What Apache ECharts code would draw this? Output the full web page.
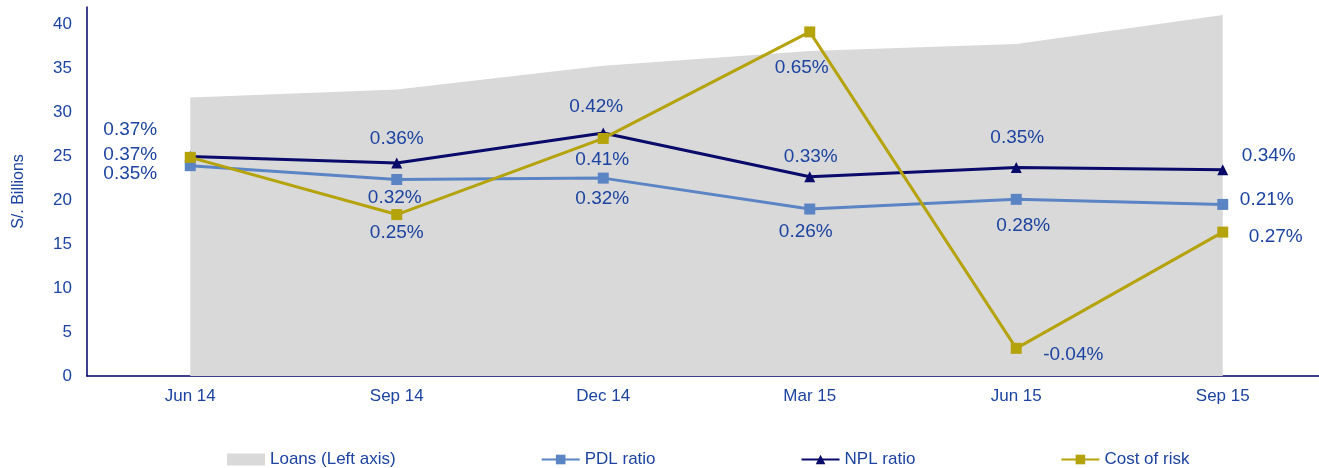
<!DOCTYPE html>
<html>
<head>
<meta charset="utf-8">
<script src="https://cdn.jsdelivr.net/npm/echarts@6/dist/echarts.min.js"></script>
<style>
  html, body { margin: 0; padding: 0; background: #fff; overflow: hidden; }
  #chart { width: 1326px; height: 468px; }
</style>
</head>
<body>
<div id="chart"></div>
<script>
// data
const quarters = ['Jun 14', 'Sep 14', 'Dec 14', 'Mar 15', 'Jun 15', 'Sep 15'];
const loans = [31.7, 32.6, 35.3, 37.0, 37.8, 41.1];          // S/. billions
const pdlRatio = [0.356, 0.326, 0.329, 0.262, 0.283, 0.272]; // %
const nplRatio = [0.376, 0.362, 0.427, 0.332, 0.352, 0.347]; // %
const costOfRisk = [0.374, 0.250, 0.415, 0.646, -0.040, 0.212]; // %
const pdlLabels = ['0.35%', '0.32%', '0.32%', '0.26%', '0.28%', '0.21%'];
const nplLabels = ['0.37%', '0.36%', '0.42%', '0.33%', '0.35%', '0.34%'];
const corLabels = ['0.37%', '0.25%', '0.41%', '0.65%', '-0.04%', '0.27%'];
const leftTicks = [0, 5, 10, 15, 20, 25, 30, 35, 40];

// where each label sits relative to its point
const pdlOffsets = [[-60, 8], [-2, 18], [-1, 21], [-4, 23], [7, 26], [44, -5]];
const nplOffsets = [[-60, -27], [0, -24], [-7, -26], [1, -20], [1, -30], [46, -14]];
const corOffsets = [[-60, -3], [0, 18], [-1, 21], [-8, 36], [57, 6], [53, 5]];

const textColor = '#1c44a0';
const font = 'Liberation Sans, Arial, sans-serif';

function withLabels(values, texts, offsets) {
  return values.map((v, i) => ({
    value: v,
    label: { show: true, position: 'inside', offset: offsets[i], formatter: texts[i] }
  }));
}

const chart = echarts.init(document.getElementById('chart'));
const option = {
  animation: false,
  textStyle: { fontFamily: font },
  grid: { left: 87, top: 7, right: 0, height: 369 },
  legend: {
    left: 222,
    top: 446,
    itemWidth: 38,
    itemHeight: 12,
    itemGap: 145,
    textStyle: { color: textColor, fontSize: 17, fontFamily: font },
    data: [
      { name: 'Loans (Left axis)', icon: 'rect', itemStyle: { color: '#d9d9d9' } },
      'PDL ratio', 'NPL ratio', 'Cost of risk'
    ]
  },
  xAxis: {
    type: 'category',
    data: quarters,
    boundaryGap: true,
    axisLine: { lineStyle: { color: '#000066', width: 1.5 } },
    axisTick: { show: false },
    axisLabel: { color: textColor, fontSize: 17, margin: 12 }
  },
  yAxis: [
    {
      type: 'value',
      min: 0,
      max: 42,
      interval: 5,
      name: 'S/. Billions',
      nameLocation: 'middle',
      nameRotate: 90,
      nameGap: 60,
      nameTextStyle: { color: textColor, fontSize: 16 },
      axisLine: { show: true, lineStyle: { color: '#000066', width: 1.5 } },
      axisTick: { show: false },
      splitLine: { show: false },
      axisLabel: {
        color: textColor, fontSize: 17, margin: 15, showMaxLabel: false,
        formatter: v => leftTicks.indexOf(v) >= 0 ? String(v) : ''
      }
    },
    {
      type: 'value',
      min: -0.1,
      max: 0.7,
      show: false,
      splitLine: { show: false }
    }
  ],
  series: [
    {
      name: 'Loans (Left axis)',
      type: 'line',
      data: loans,
      symbol: 'none',
      lineStyle: { width: 0 },
      itemStyle: { color: '#d9d9d9' },
      areaStyle: { color: '#d9d9d9', opacity: 1 },
      z: 1
    },
    {
      name: 'PDL ratio',
      type: 'line',
      yAxisIndex: 1,
      data: withLabels(pdlRatio, pdlLabels, pdlOffsets),
      symbol: 'rect',
      symbolSize: 11,
      color: '#5b84c4',
      lineStyle: { width: 3, color: '#5b84c4' },
      label: { color: textColor, fontSize: 19 },
      z: 3
    },
    {
      name: 'NPL ratio',
      type: 'line',
      yAxisIndex: 1,
      data: withLabels(nplRatio, nplLabels, nplOffsets),
      symbol: 'triangle',
      symbolSize: 11,
      color: '#0a0a6b',
      lineStyle: { width: 3, color: '#0a0a6b' },
      label: { color: textColor, fontSize: 19 },
      z: 4
    },
    {
      name: 'Cost of risk',
      type: 'line',
      yAxisIndex: 1,
      data: withLabels(costOfRisk, corLabels, corOffsets),
      symbol: 'rect',
      symbolSize: 11,
      color: '#b5a30c',
      lineStyle: { width: 3, color: '#b5a30c' },
      label: { color: textColor, fontSize: 19 },
      z: 5
    }
  ]
};
chart.setOption(option);
window.addEventListener('resize', () => {
  chart.resize();
}, true);
</script>
</body>
</html>
